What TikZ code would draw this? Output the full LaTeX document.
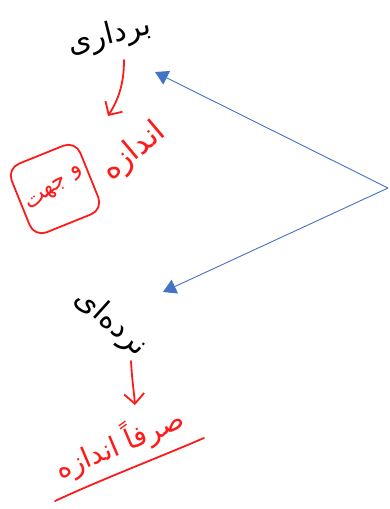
\documentclass[tikz,border=0pt]{standalone}
\usepackage{fontspec}
\usetikzlibrary{arrows.meta}
\TeXXeTstate=1
\newfontfamily\arabicfont[Script=Arabic]{DejaVu Sans}
\definecolor{inkred}{HTML}{FF1A1A}
\definecolor{lineblue}{HTML}{4472C4}
\begin{document}
\begin{tikzpicture}[x=1pt,y=-1pt,
  blackword/.style={font=\arabicfont\fontsize{30}{34}\selectfont, text=black, inner sep=0pt},
  redword/.style={font=\arabicfont\fontsize{28}{32}\selectfont, text=inkred, inner sep=0pt},
  redpen/.style={draw=inkred, line width=1.8pt, line cap=round, line join=round},
  redarrow/.style={redpen, -{Straight Barb[length=10pt,width=20pt,line width=1.8pt]}},
  blueline/.style={draw=lineblue, line width=0.9pt, -{Triangle[length=13pt,width=15pt]}}]
\useasboundingbox (0,0) rectangle (390,509);
% labels
\node[blackword, rotate=14] (vec) at (110,36) {\beginR برداری\endR};
\node[blackword, rotate=-42] (sca) at (111,323) {\beginR نرده‌ای\endR};
\node[redword, font=\arabicfont\fontsize{31}{34}\selectfont, rotate=40] (mag) at (134,152) {\beginR اندازه\endR};
\node[draw=inkred, line width=1.8pt, rounded corners=13pt, rotate=22,
      minimum width=74pt, minimum height=74pt] (box) at (55,189) {};
\node[redword, font=\arabicfont\fontsize{23}{26}\selectfont, rotate=38] (dir) at (box.center) {\beginR و جهت\endR};
\node[redword, rotate=23] (only) at (119,443) {\beginR صرفاً اندازه\endR};
% coordinates
\coordinate (apex) at (388,188);
\coordinate (vtip) at (155,72);
\coordinate (stip) at (163,292);
\coordinate (a1s) at (124,60);
\coordinate (a1e) at (108,116);
\coordinate (a2s) at (131,361);
\coordinate (a2e) at (135,405);
\coordinate (u1) at (55,501);
\coordinate (u2) at (204,438);
% connectors
\draw[blueline] (apex) -- (vtip);
\draw[blueline] (apex) -- (stip);
\draw[redarrow] (a1s) .. controls (124,85) and (118,100) .. (a1e);
\draw[redarrow] (a2s) .. controls (132,380) and (134,392) .. (a2e);
\draw[redpen] (u1) .. controls (100,480) and (160,457) .. (u2);
\end{tikzpicture}
\end{document}
